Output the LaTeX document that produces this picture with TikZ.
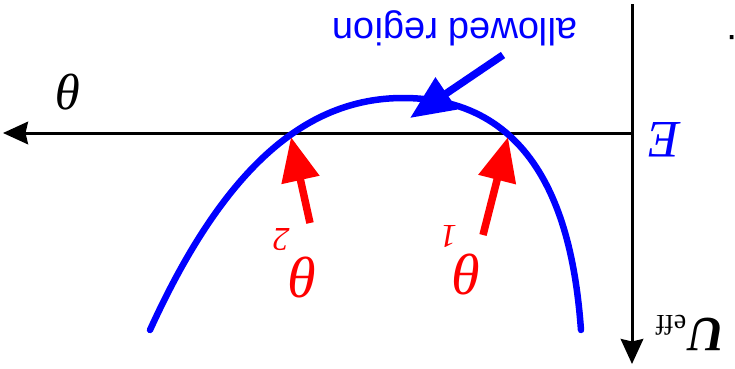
\documentclass[tikz,border=0pt]{standalone}
\usepackage{fontspec}
\setsansfont{Liberation Sans}
\newfontfamily\timesfam{Liberation Serif}
\usetikzlibrary{arrows.meta}
\definecolor{curveBlue}{RGB}{0,0,255}
\definecolor{markRed}{RGB}{255,0,0}
\newcommand{\lowsub}[2]{\raisebox{-0.5em}{\fontsize{#1}{#1}\selectfont #2}}

\begin{document}
\begin{tikzpicture}[x=0.02cm, y=-0.02cm,
    flip/.style={rotate=180, inner sep=0pt},
    axis/.style={line width=0.06cm, -{Stealth[length=0.5cm, width=0.45cm, inset=0.05cm]}},
    pointer/.style={line width=0.15cm, -{Triangle[length=0.88cm, width=0.74cm]}}]
  \useasboundingbox (0,0) rectangle (735,369);

  \coordinate (orig) at (632,133);
  \coordinate (utop) at (632,4);
  \coordinate (ubot) at (632,364);
  \coordinate (thend) at (3,133);
  \draw[axis] (utop) -- (ubot);
  \draw[axis] (orig) -- (thend);

  \draw[curveBlue, line width=0.13cm, line cap=round]
    (150,330) .. controls (222,172) and (303,98) .. (403,98)
              .. controls (553,98) and (575,250) .. (581,330);

  \node[flip, font=\timesfam\itshape\fontsize{29}{31}\selectfont] (theta) at (69,92) {θ};
  \node[flip, curveBlue, font=\timesfam\itshape\fontsize{30}{32}\selectfont] (energy) at (664,140) {E};
  \node[flip, font=\timesfam\fontsize{28}{30}\selectfont] (ueff) at (690,333)
    {{\bfseries\itshape U}\kern0.05em\raisebox{-0.05em}{\fontsize{16}{16}\selectfont eff}};
  \node[flip, font=\sffamily\fontsize{22}{24}\selectfont] (dot) at (732,38) {.};

  \node[flip, curveBlue, font=\sffamily\fontsize{21.6}{24}\selectfont] (allowed) at (455,28) {allowed region};
  \coordinate (alltail) at (503,55);
  \coordinate (alltip) at (410,118);
  \draw[pointer, curveBlue] (alltail) -- (alltip);

  \node[flip, markRed, font=\timesfam\itshape\fontsize{33}{35}\selectfont] (th2) at (295,263)
    {θ\kern-0.02em\lowsub{19}{2}};
  \node[flip, markRed, font=\timesfam\itshape\fontsize{33}{35}\selectfont] (th1) at (461,260)
    {θ\kern-0.06em\lowsub{19}{1}};
  \coordinate (t2tail) at (310,223);
  \coordinate (t2tip) at (291,137);
  \coordinate (t1tail) at (483,235);
  \coordinate (t1tip) at (508,137);
  \draw[pointer, markRed] (t2tail) -- (t2tip);
  \draw[pointer, markRed] (t1tail) -- (t1tip);
\end{tikzpicture}
\end{document}
